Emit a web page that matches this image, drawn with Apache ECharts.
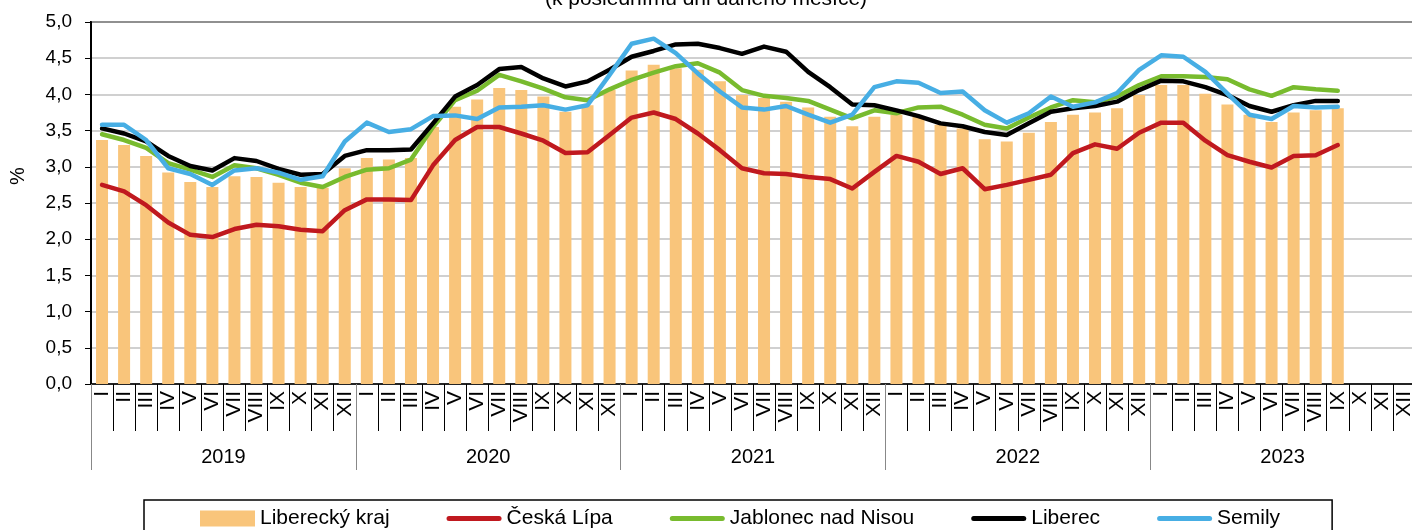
<!DOCTYPE html>
<html>
<head>
<meta charset="utf-8">
<script src="https://cdn.jsdelivr.net/npm/echarts@6/dist/echarts.min.js"></script>
<style>
html,body{margin:0;padding:0;background:#fff;}
#chart{width:1412px;height:530px;}
</style>
</head>
<body>
<div id="chart"></div>
<script>
const months = ['I','II','III','IV','V','VI','VII','VIII','IX','X','XI','XII'];
const years = ['2019','2020','2021','2022','2023'];
const categories = [];
years.forEach(function(){ months.forEach(function(m){ categories.push(m); }); });

const seriesNames = ['Liberecký kraj','Česká Lípa','Jablonec nad Nisou','Liberec','Semily'];

const liberecky_kraj = [
  3.37,3.30,3.15,2.92,2.79,2.72,2.87,2.86,2.78,2.72,2.71,2.98,
  3.12,3.10,3.12,3.55,3.83,3.93,4.09,4.06,3.97,3.76,3.85,4.06,
  4.33,4.41,4.36,4.34,4.18,3.99,3.95,3.90,3.82,3.69,3.56,3.69,
  3.72,3.69,3.58,3.53,3.38,3.35,3.47,3.62,3.72,3.75,3.81,3.99,
  4.13,4.13,4.01,3.86,3.72,3.62,3.75,3.78,3.81
];
const ceska_lipa = [
  2.75,2.66,2.47,2.23,2.06,2.03,2.14,2.20,2.18,2.13,2.11,2.40,
  2.55,2.55,2.54,3.02,3.37,3.55,3.55,3.46,3.36,3.19,3.20,3.44,
  3.68,3.75,3.66,3.46,3.23,2.98,2.91,2.90,2.86,2.83,2.70,2.93,
  3.15,3.07,2.90,2.98,2.69,2.75,2.82,2.89,3.19,3.31,3.25,3.47,
  3.61,3.61,3.36,3.16,3.07,2.99,3.15,3.16,3.30
];
const jablonec = [
  3.45,3.37,3.26,3.05,2.96,2.86,3.02,2.98,2.89,2.78,2.72,2.86,
  2.96,2.98,3.10,3.55,3.92,4.05,4.27,4.18,4.08,3.96,3.92,4.07,
  4.20,4.30,4.39,4.43,4.30,4.06,3.98,3.95,3.91,3.79,3.67,3.78,
  3.74,3.82,3.83,3.72,3.58,3.53,3.68,3.82,3.92,3.89,3.97,4.13,
  4.25,4.25,4.24,4.21,4.07,3.98,4.10,4.07,4.05
];
const liberec = [
  3.53,3.46,3.35,3.15,3.01,2.95,3.12,3.08,2.97,2.89,2.90,3.15,
  3.23,3.23,3.24,3.60,3.97,4.13,4.35,4.38,4.22,4.11,4.18,4.34,
  4.52,4.60,4.69,4.70,4.64,4.56,4.66,4.59,4.31,4.10,3.86,3.85,
  3.78,3.70,3.60,3.56,3.48,3.44,3.60,3.76,3.81,3.84,3.90,4.06,
  4.19,4.18,4.10,3.99,3.84,3.76,3.85,3.91,3.91
];
const semily = [
  3.58,3.58,3.37,2.98,2.90,2.75,2.95,2.98,2.92,2.82,2.87,3.35,
  3.61,3.48,3.52,3.70,3.71,3.66,3.82,3.83,3.85,3.79,3.85,4.27,
  4.70,4.77,4.57,4.29,4.04,3.82,3.79,3.84,3.72,3.61,3.72,4.10,
  4.18,4.16,4.02,4.04,3.78,3.61,3.74,3.97,3.83,3.89,4.02,4.34,
  4.54,4.52,4.31,4.01,3.72,3.66,3.84,3.82,3.83
];

const FONT = '"Liberation Sans", Arial, sans-serif';
const LINE_ICON = 'path://M2.5,0 L52.5,0 A2.5,2.5 0 0 1 52.5,5 L2.5,5 A2.5,2.5 0 0 1 2.5,0 Z';
const chart = echarts.init(document.getElementById('chart'), null, {renderer:'canvas'});

function lineSeries(name, data, color){
  return {
    name: name, type: 'line', data: data, xAxisIndex: 0,
    symbol: 'none', showSymbol: false,
    lineStyle: {color: color, width: 4.5, cap: 'round', join: 'round'},
    itemStyle: {color: color},
    emphasis: {disabled: true}, animation: false
  };
}

chart.setOption({
  animation: false,
  backgroundColor: '#fff',
  grid: {left: 91, top: 22, width: 1324, bottom: 146, outerBoundsMode: 'none', containLabel: false,
    show: true, borderColor: '#000', borderWidth: 2, backgroundColor: 'transparent'},
  graphic: [
    {type: 'text', left: 'center', top: -11, style: {text: '(k poslednímu dni daného měsíce)', font: '21px ' + FONT, fill: '#000'}},
    {type: 'text', x: 18, y: 176, rotation: Math.PI/2, style: {text: '%', font: '20px ' + FONT, fill: '#000', align: 'center', verticalAlign: 'middle'}}
  ],
  legend: {
    left: 144, top: 500,
    padding: [8, 52, 8, 56],
    borderColor: '#000', borderWidth: 1.5,
    itemWidth: 55, itemHeight: 16, itemGap: 57,
    textStyle: {fontFamily: FONT, fontSize: 21, color: '#000'},
    data: [
      {name: seriesNames[0], icon: 'rect'},
      {name: seriesNames[1], icon: LINE_ICON},
      {name: seriesNames[2], icon: LINE_ICON},
      {name: seriesNames[3], icon: LINE_ICON},
      {name: seriesNames[4], icon: LINE_ICON}
    ]
  },
  xAxis: [
    {
      type: 'category', data: categories, position: 'bottom',
      axisLine: {show: true, lineStyle: {color: '#000', width: 1.5}},
      axisTick: {show: true, interval: 0, length: 47, lineStyle: {color: '#000', width: 1}},
      axisLabel: {interval: 0, rotate: 90, margin: 7, fontFamily: FONT, fontSize: 21, color: '#000'},
      splitLine: {show: false}
    },
    {
      type: 'category', data: years, position: 'bottom', offset: 0,
      axisLine: {show: false},
      axisTick: {show: true, interval: 0, length: 86, lineStyle: {color: '#888', width: 1}},
      axisLabel: {interval: 0, margin: 63, fontFamily: FONT, fontSize: 20, color: '#000'},
      splitLine: {show: false}
    }
  ],
  yAxis: {
    type: 'value', min: 0, max: 5, interval: 0.5,
    axisLine: {show: true, lineStyle: {color: '#000', width: 2}},
    axisTick: {show: true, length: 6, lineStyle: {color: '#000', width: 1}},
    axisLabel: {margin: 19, fontFamily: FONT, fontSize: 19, color: '#000',
      formatter: function(v){ return v.toFixed(1).replace('.', ','); }},
    splitLine: {show: true, lineStyle: {color: '#c0c0c0', width: 1.5}}
  },
  series: [
    {name: seriesNames[0], type: 'bar', data: liberecky_kraj, xAxisIndex: 0, barWidth: 12,
      itemStyle: {color: '#F9C57B'}, emphasis: {disabled: true}},
    lineSeries(seriesNames[1], ceska_lipa, '#C0191F'),
    lineSeries(seriesNames[2], jablonec, '#78BB2E'),
    lineSeries(seriesNames[3], liberec, '#000000'),
    lineSeries(seriesNames[4], semily, '#47AEE4')
  ]
});
</script>
</body>
</html>
